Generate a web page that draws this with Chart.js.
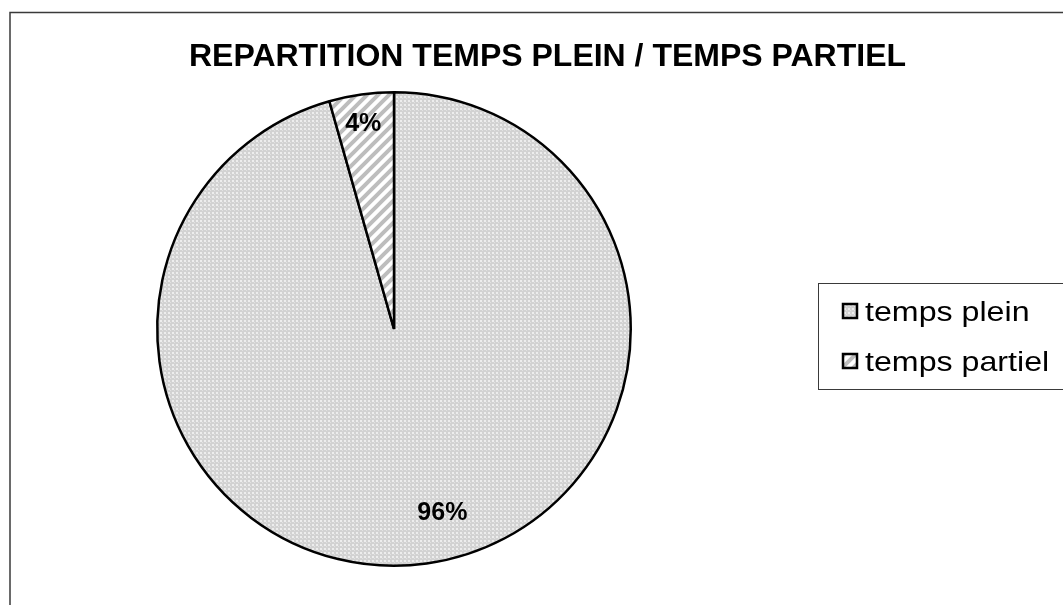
<!DOCTYPE html>
<html>
<head>
<meta charset="utf-8">
<script src="https://cdn.jsdelivr.net/npm/chart.js@4/dist/chart.umd.min.js"></script>
<style>
html,body{margin:0;padding:0;background:#fff;}
#wrap{width:1063px;height:605px;position:relative;}
</style>
</head>
<body>
<div id="wrap"><canvas id="c" width="1063" height="605"></canvas></div>
<script>
const chartTitle = 'REPARTITION TEMPS PLEIN / TEMPS PARTIEL';
const categories = ['temps plein', 'temps partiel'];
const values = [95.6, 4.4];
const valueLabels = ['96%', '4%'];

function dotPattern() {
  const c = document.createElement('canvas');
  c.width = 4; c.height = 4;
  const x = c.getContext('2d');
  x.fillStyle = '#d2d2d2'; x.fillRect(0, 0, 4, 4);
  x.fillStyle = '#ededed'; x.fillRect(0, 0, 2, 2);
  x.fillStyle = '#e2e2e2'; x.fillRect(2, 2, 1, 1);
  return x.createPattern(c, 'repeat');
}
function stripePattern() {
  const c = document.createElement('canvas');
  c.width = 11; c.height = 11;
  const x = c.getContext('2d');
  x.fillStyle = '#ffffff'; x.fillRect(0, 0, 11, 11);
  x.strokeStyle = '#bdbdbd'; x.lineWidth = 4;
  x.beginPath();
  x.moveTo(-5.5, 5.5); x.lineTo(5.5, -5.5);
  x.moveTo(0, 11); x.lineTo(11, 0);
  x.moveTo(5.5, 16.5); x.lineTo(16.5, 5.5);
  x.stroke();
  return x.createPattern(c, 'repeat');
}
const fills = [dotPattern(), stripePattern()];

const framePlugin = {
  id: 'frame',
  beforeDraw(chart) {
    const ctx = chart.ctx;
    ctx.save();
    ctx.fillStyle = '#fff';
    ctx.fillRect(0, 0, chart.width, chart.height);
    ctx.strokeStyle = '#3a3a3a';
    ctx.lineWidth = 1.5;
    ctx.strokeRect(10, 12.5, 1200, 800);
    ctx.restore();
  }
};

const titlePlugin = {
  id: 'ttl',
  afterDraw(chart) {
    const ctx = chart.ctx;
    ctx.save();
    ctx.font = 'bold 32px "Liberation Sans", Arial, sans-serif';
    ctx.fillStyle = '#000';
    ctx.textAlign = 'center';
    ctx.textBaseline = 'alphabetic';
    ctx.fillText(chartTitle, 547.5, 66);
    ctx.restore();
  }
};

const labelPlugin = {
  id: 'lbls',
  afterDatasetsDraw(chart) {
    const ctx = chart.ctx;
    const meta = chart.getDatasetMeta(0);
    const place = [{f: 0.80, shift: -0.12}, {f: 0.88, shift: -0.01}];
    ctx.save();
    ctx.font = 'bold 25px "Liberation Sans", Arial, sans-serif';
    ctx.fillStyle = '#000';
    ctx.textAlign = 'center';
    ctx.textBaseline = 'middle';
    meta.data.forEach((arc, i) => {
      const p = arc.getProps(['x', 'y', 'startAngle', 'endAngle', 'outerRadius'], true);
      const a = (p.startAngle + p.endAngle) / 2 + place[i].shift;
      const r = p.outerRadius * place[i].f;
      ctx.fillText(valueLabels[i], p.x + Math.cos(a) * r, p.y + Math.sin(a) * r + 1);
    });
    ctx.restore();
  }
};

const legendPlugin = {
  id: 'lgd',
  afterDraw(chart) {
    const ctx = chart.ctx;
    ctx.save();
    ctx.strokeStyle = '#3a3a3a';
    ctx.lineWidth = 1;
    ctx.strokeRect(818.5, 283.5, 260, 106);
    categories.forEach((name, i) => {
      const y0 = 303 + i * 50;
      ctx.fillStyle = fills[i];
      ctx.fillRect(842, y0, 16, 16);
      ctx.strokeStyle = '#000';
      ctx.lineWidth = 2.5;
      ctx.strokeRect(843, y0 + 1, 14, 14);
      ctx.save();
      ctx.translate(865, y0 + 17.5);
      ctx.scale(1.17, 1);
      ctx.font = '27.5px "Liberation Sans", Arial, sans-serif';
      ctx.fillStyle = '#000';
      ctx.textAlign = 'left';
      ctx.textBaseline = 'alphabetic';
      ctx.fillText(name, 0, 0);
      ctx.restore();
    });
    ctx.restore();
  }
};

new Chart(document.getElementById('c'), {
  type: 'pie',
  data: {
    labels: categories,
    datasets: [{
      data: values,
      backgroundColor: fills,
      borderColor: '#000',
      borderWidth: 2.5,
      hoverOffset: 0,
      offset: 0
    }]
  },
  options: {
    responsive: false,
    animation: false,
    events: [],
    layout: { padding: { left: 156, right: 431, top: 91, bottom: 38 } },
    plugins: {
      legend: { display: false },
      title: { display: false },
      tooltip: { enabled: false }
    }
  },
  plugins: [framePlugin, titlePlugin, labelPlugin, legendPlugin]
});
</script>
</body>
</html>
